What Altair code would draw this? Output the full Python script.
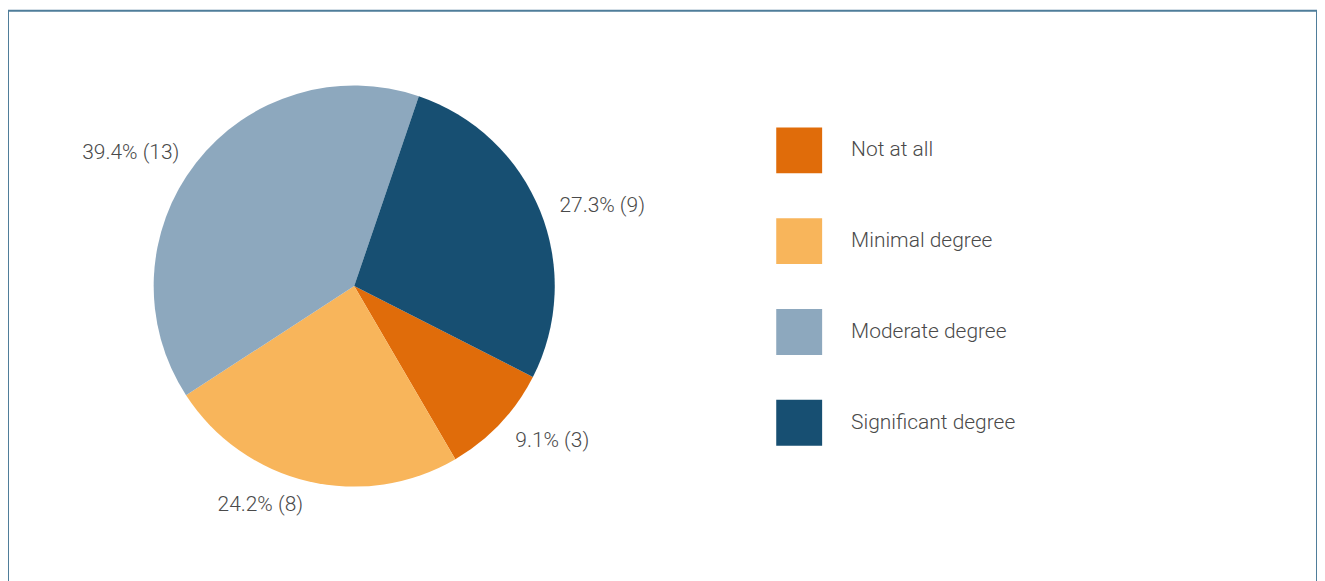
import math
import altair as alt
import pandas as pd

categories = ["Not at all", "Minimal degree", "Moderate degree", "Significant degree"]
counts = [3, 8, 13, 9]
percents = [9.1, 24.2, 39.4, 27.3]
colors = ["#E06C0A", "#F8B55B", "#8DA8BE", "#174F72"]
# clockwise drawing order starting near the top
draw_order = [2, 3, 4, 1]

START = math.radians(18.8)

df = pd.DataFrame({
    "category": categories,
    "count": counts,
    "pct": percents,
    "ord": draw_order,
})
df["label"] = [f"{p}% ({c})" for p, c in zip(percents, counts)]

CX, CY, R = 347, 276, 201
font = "Roboto"

base = alt.Chart(df)

pie = base.mark_arc(outerRadius=R, stroke=None).encode(
    theta=alt.Theta("count:Q", stack=True,
                    scale=alt.Scale(range=[START, START + 2 * math.pi])),
    order=alt.Order("ord:Q"),
    color=alt.Color(
        "category:N",
        scale=alt.Scale(domain=categories, range=colors),
        legend=alt.Legend(
            title=None, orient="none", legendX=770, legendY=117,
            symbolType="square", symbolSize=2116, symbolStrokeWidth=0,
            symbolOpacity=1, labelFont=font, labelFontSize=21,
            labelFontWeight=300,
            labelColor="#4A4A4A", labelOffset=29, rowPadding=45,
            padding=0, labelLimit=400,
        ),
    ),
    x=alt.value(CX),
    y=alt.value(CY),
)

labels_base = base.transform_window(
    cum="sum(count)", sort=[alt.SortField("ord")]
).transform_joinaggregate(
    total="sum(count)"
).transform_calculate(
    mid=f"{START} + 2*PI*(datum.cum - datum.count/2)/datum.total"
).transform_calculate(
    side="sin(datum.mid) > 0 ? 'right' : 'left'"
)

def label_layer(side, align):
    return labels_base.transform_filter(f"datum.side == '{side}'").mark_text(
        radius=222, align=align, baseline="middle", font=font, fontSize=21,
        fontWeight=300, color="#4A4A4A",
    ).encode(
        theta=alt.Theta("mid:Q", scale=None, stack=False),
        text="label:N",
        x=alt.value(CX),
        y=alt.value(CY + 3),
    )

chart = alt.layer(
    pie, label_layer("right", "left"), label_layer("left", "right")
).properties(
    width=1312, height=600,
    padding={"left": 0, "top": 2, "right": 0, "bottom": 0},
    autosize="none",
).configure_view(
    stroke="#4F7D9A", strokeWidth=2
)

chart.save("out.html", embed_options={"renderer": "svg", "actions": False})
